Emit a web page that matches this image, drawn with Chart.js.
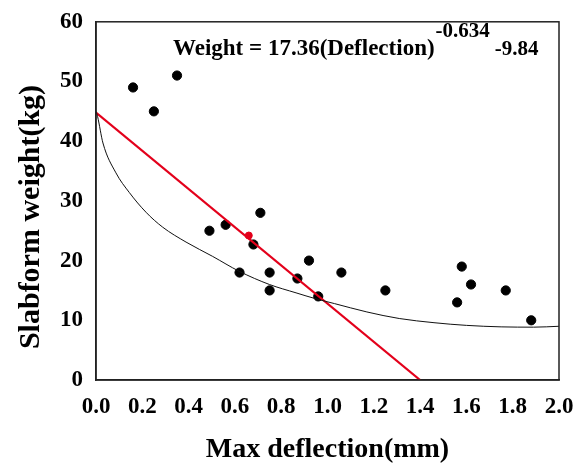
<!DOCTYPE html>
<html>
<head>
<meta charset="utf-8">
<script src="https://cdn.jsdelivr.net/npm/chart.js@4.4.1/dist/chart.umd.min.js"></script>
<style>
  html, body { margin: 0; padding: 0; background: #fff; }
  #wrap { width: 585px; height: 473px; }
</style>
</head>
<body>
<div id="wrap"><canvas id="chart"></canvas></div>
<script>
// measured points
const deflection = [0.16, 0.25, 0.35, 0.49, 0.56, 0.62, 0.68, 0.71, 0.75, 0.75, 0.87, 0.92, 0.96, 1.06, 1.25, 1.56, 1.58, 1.62, 1.77, 1.88];
const weight = [49, 45, 51, 25, 26, 18, 22.7, 28, 18, 15, 17, 20, 14, 18, 15, 13, 19, 16, 15, 10];

// fitted curve
const curveX = [0, 0.007, 0.03, 0.086, 0.144, 0.216, 0.288, 0.389, 0.504, 0.619, 0.749, 0.864, 0.95, 1.03, 1.17, 1.31, 1.46, 1.6, 1.75, 1.89, 2.0];
const curveY = [45, 44.1, 39.7, 34.7, 31.4, 28.1, 25.6, 23.1, 20.7, 18.2, 16.0, 14.6, 13.6, 12.8, 11.4, 10.3, 9.6, 9.15, 8.9, 8.85, 9.0];

// red straight line
const lineX = [0, 1.4];
const lineY = [44.8, 0];
const markX = [0.66];
const markY = [24.2];

const xTicks = [0, 0.2, 0.4, 0.6, 0.8, 1.0, 1.2, 1.4, 1.6, 1.8, 2.0];
const yTicks = [0, 10, 20, 30, 40, 50, 60];

const pts = (xs, ys) => xs.map((x, i) => ({ x: x, y: ys[i] }));
const serif = "'Liberation Serif', 'Times New Roman', serif";

const equation = {
  id: 'equation',
  afterDraw(chart) {
    const ctx = chart.ctx;
    ctx.save();
    ctx.fillStyle = '#000';
    ctx.textBaseline = 'alphabetic';
    let x = 173;
    ctx.font = 'bold 23px ' + serif;
    const main = 'Weight = 17.36(Deflection)';
    ctx.fillText(main, x, 55);
    x += ctx.measureText(main).width + 1;
    ctx.font = 'bold 21px ' + serif;
    const sup = '-0.634';
    ctx.fillText(sup, x, 37);
    x += ctx.measureText(sup).width + 5;
    ctx.font = 'bold 21px ' + serif;
    ctx.fillText('-9.84', x, 55);

    // y axis title
    const a = chart.chartArea;
    ctx.translate(31, 217);
    ctx.rotate(-Math.PI / 2);
    ctx.textAlign = 'center';
    ctx.textBaseline = 'middle';
    ctx.font = 'bold 30px ' + serif;
    ctx.fillText('Slabform weight(kg)', 0, 0);
    ctx.restore();
  }
};

const boxBorder = {
  id: 'boxBorder',
  afterDraw(chart) {
    const a = chart.chartArea;
    const ctx = chart.ctx;
    ctx.save();
    ctx.strokeStyle = '#222';
    ctx.lineWidth = 1.5;
    ctx.strokeRect(a.left, a.top, a.right - a.left, a.bottom - a.top);
    ctx.restore();
  }
};

new Chart(document.getElementById('chart'), {
  type: 'scatter',
  data: {
    datasets: [
      {
        label: 'fit',
        type: 'line',
        data: pts(curveX, curveY),
        borderColor: '#111',
        borderWidth: 1,
        pointRadius: 0,
        fill: false,
        cubicInterpolationMode: 'monotone'
      },
      {
        label: 'linear',
        type: 'line',
        data: pts(lineX, lineY),
        borderColor: '#e3001b',
        borderWidth: 2.2,
        pointRadius: 0,
        fill: false
      },
      {
        label: 'data',
        data: pts(deflection, weight),
        backgroundColor: '#000',
        borderColor: '#000',
        pointRadius: 4.6
      },
      {
        label: 'mark',
        data: pts(markX, markY),
        backgroundColor: '#e3001b',
        borderColor: '#e3001b',
        pointRadius: 3.5
      }
    ]
  },
  options: {
    responsive: true,
    maintainAspectRatio: false,
    animation: false,
    layout: { padding: { left: 0, right: 26, top: 17, bottom: 0 } },
    plugins: {
      legend: { display: false },
      tooltip: { enabled: false }
    },
    scales: {
      x: {
        type: 'linear',
        min: 0,
        max: 2,
        afterBuildTicks: (s) => { s.ticks = xTicks.map(v => ({ value: v })); },
        afterFit: (s) => { s.height = 93; },
        grid: { display: false, drawTicks: true, tickLength: 5, tickColor: '#222' },
        border: { display: true, color: '#222', width: 1.5 },
        ticks: {
          color: '#000',
          padding: 8,
          maxRotation: 0,
          autoSkip: false,
          font: { family: serif, size: 23, weight: 'bold' },
          callback: (v) => v.toFixed(1)
        },
        title: {
          display: true,
          text: 'Max deflection(mm)',
          color: '#000',
          font: { family: serif, size: 28, weight: 'bold' },
          padding: { top: 0, bottom: 6 }
        }
      },
      y: {
        type: 'linear',
        min: 0,
        max: 60,
        afterBuildTicks: (s) => { s.ticks = yTicks.map(v => ({ value: v })); },
        afterFit: (s) => { s.width = 96; },
        grid: { display: false, drawTicks: true, tickLength: 5, tickColor: '#222' },
        border: { display: true, color: '#222', width: 1.5 },
        ticks: {
          color: '#000',
          padding: 8,
          autoSkip: false,
          font: { family: serif, size: 23, weight: 'bold' }
        }
      }
    }
  },
  plugins: [equation, boxBorder]
});
</script>
</body>
</html>
